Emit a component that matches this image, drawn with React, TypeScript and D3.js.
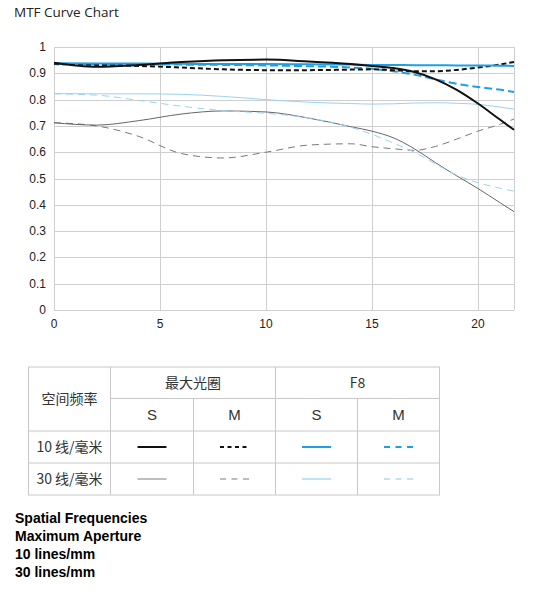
import * as d3 from 'd3';

// spatial frequency samples (x axis, mm from centre)
const xs = [0, 2, 4, 6, 8, 10, 12, 14, 15, 16, 17, 18, 19, 20, 21, 21.7];

// 10 lines/mm
const s10Max = [0.94, 0.925, 0.932, 0.943, 0.95, 0.952, 0.945, 0.935, 0.928, 0.92, 0.905, 0.877, 0.837, 0.785, 0.726, 0.685];
const m10Max = [0.935, 0.932, 0.928, 0.922, 0.915, 0.912, 0.912, 0.914, 0.915, 0.912, 0.908, 0.908, 0.913, 0.922, 0.933, 0.943];
const s10F8 = [0.938, 0.937, 0.937, 0.936, 0.935, 0.935, 0.934, 0.933, 0.932, 0.932, 0.931, 0.931, 0.93, 0.93, 0.929, 0.928];
const m10F8 = [0.936, 0.935, 0.934, 0.933, 0.932, 0.93, 0.927, 0.922, 0.917, 0.908, 0.895, 0.877, 0.86, 0.848, 0.838, 0.829];

// 30 lines/mm
const s30Max = [0.712, 0.703, 0.72, 0.745, 0.757, 0.753, 0.73, 0.697, 0.68, 0.655, 0.613, 0.56, 0.51, 0.462, 0.41, 0.374];
const m30Max = [0.712, 0.7, 0.66, 0.595, 0.578, 0.6, 0.627, 0.632, 0.621, 0.613, 0.607, 0.622, 0.65, 0.68, 0.705, 0.726];
const s30F8 = [0.823, 0.822, 0.822, 0.82, 0.812, 0.8, 0.79, 0.785, 0.783, 0.784, 0.787, 0.788, 0.786, 0.782, 0.772, 0.764];
const m30F8 = [0.822, 0.817, 0.797, 0.775, 0.758, 0.748, 0.73, 0.695, 0.668, 0.635, 0.6, 0.555, 0.513, 0.484, 0.464, 0.452];

const yTicks = [0, 0.1, 0.2, 0.3, 0.4, 0.5, 0.6, 0.7, 0.8, 0.9, 1];
const xTicks = [0, 5, 10, 15, 20];

const apertureLabels = ['最大光圈', 'F8'];
const typeLabels = ['S', 'M', 'S', 'M'];
const freqLabels = ['10 线/毫米', '30 线/毫米'];
const notes = ['Spatial Frequencies', 'Maximum Aperture', '10 lines/mm', '30 lines/mm'];

const BLACK = '#111111';
const BLUE = '#1f9fe3';
const GRAY = '#7a7a7a';
const LIGHT = '#99d3f3';

// drawing order: back to front
const series = [
  { values: m30Max, color: GRAY, width: 1, dash: '7,5' },
  { values: s30Max, color: '#666666', width: 1, dash: null },
  { values: m30F8, color: LIGHT, width: 1, dash: '7,5' },
  { values: s30F8, color: LIGHT, width: 1, dash: null },
  { values: m10F8, color: BLUE, width: 2, dash: '8,4' },
  { values: m10Max, color: BLACK, width: 2, dash: '5,3' },
  { values: s10F8, color: BLUE, width: 2, dash: null },
  { values: s10Max, color: BLACK, width: 2, dash: null },
];

// legend cell styles: rows = 10, 30 lines/mm; cols = Max S, Max M, F8 S, F8 M
const legendStyles = [
  [
    { color: BLACK, width: 2, dash: null },
    { color: BLACK, width: 2, dash: '4,3.5' },
    { color: BLUE, width: 2, dash: null },
    { color: BLUE, width: 2, dash: '6,5.5' },
  ],
  [
    { color: '#a8a8a8', width: 1.5, dash: null },
    { color: '#a8a8a8', width: 1.5, dash: '6,5.5' },
    { color: '#a9dcf5', width: 1.5, dash: null },
    { color: '#a9dcf5', width: 1.5, dash: '6,5.5' },
  ],
];

const margin = { left: 54, right: 514, top: 47, bottom: 310 };
const axisFont = '"Liberation Sans", Arial, sans-serif';
const cjkFont = '"Noto Sans CJK SC", "Liberation Sans", sans-serif';

export default function App() {
  const x = d3.scaleLinear().domain([0, 21.7]).range([margin.left, margin.right]);
  const y = d3.scaleLinear().domain([0, 1]).range([margin.bottom, margin.top]);

  const line = d3
    .line<number>()
    .x((_, i) => x(xs[i]))
    .y((d) => y(d))
    .curve(d3.curveMonotoneX);

  const colX = [28.5, 110.5, 193.5, 275.5, 357.5, 439.5];
  const rowY = [367, 398.5, 431, 463, 495];
  const gridColor = '#cfcfcf';
  const tableColor = '#c8c8c8';

  return (
    <svg
      width={551}
      height={600}
      style={{ position: 'absolute', left: 0, top: 0, background: '#fff' }}
    >
      <text x={14} y={17} fontFamily='"Open Sans", "Noto Sans", sans-serif' fontSize={13.5} fill="#222">
        MTF Curve Chart
      </text>

      {/* grid */}
      {yTicks.map((t) => (
        <line key={'h' + t} x1={margin.left} x2={margin.right} y1={Math.round(y(t)) + 0.5} y2={Math.round(y(t)) + 0.5} stroke={gridColor} />
      ))}
      {xTicks.map((t) => (
        <line key={'v' + t} x1={Math.round(x(t)) + 0.5} x2={Math.round(x(t)) + 0.5} y1={margin.top} y2={margin.bottom} stroke={gridColor} />
      ))}
      <line x1={margin.right + 0.5} x2={margin.right + 0.5} y1={margin.top} y2={margin.bottom} stroke={gridColor} />

      {/* tick labels */}
      {yTicks.map((t) => (
        <text key={'yl' + t} x={46} y={y(t) + 4} textAnchor="end" fontFamily={axisFont} fontSize={12} fill="#222">
          {d3.format('~g')(+t.toFixed(1))}
        </text>
      ))}
      {xTicks.map((t) => (
        <text key={'xl' + t} x={x(t)} y={margin.bottom + 18} textAnchor="middle" fontFamily={axisFont} fontSize={12} fill="#222">
          {t}
        </text>
      ))}

      {/* curves */}
      {series.map((s, i) => (
        <path
          key={'s' + i}
          d={line(s.values) ?? ''}
          fill="none"
          stroke={s.color}
          strokeWidth={s.width}
          strokeDasharray={s.dash ?? undefined}
        />
      ))}

      {/* legend table */}
      <g stroke={tableColor} strokeWidth={1}>
        <rect x={colX[0]} y={rowY[0]} width={colX[5] - colX[0]} height={rowY[4] - rowY[0]} fill="none" />
        <line x1={colX[1]} x2={colX[5]} y1={rowY[1]} y2={rowY[1]} />
        <line x1={colX[0]} x2={colX[5]} y1={rowY[2]} y2={rowY[2]} />
        <line x1={colX[0]} x2={colX[5]} y1={rowY[3]} y2={rowY[3]} />
        <line x1={colX[1]} x2={colX[1]} y1={rowY[0]} y2={rowY[4]} />
        <line x1={colX[3]} x2={colX[3]} y1={rowY[0]} y2={rowY[4]} />
        <line x1={colX[2]} x2={colX[2]} y1={rowY[1]} y2={rowY[4]} />
        <line x1={colX[4]} x2={colX[4]} y1={rowY[1]} y2={rowY[4]} />
      </g>
      <g fill="#333" fontFamily={cjkFont} fontSize={14} textAnchor="middle">
        <text x={(colX[0] + colX[1]) / 2} y={(rowY[0] + rowY[2]) / 2 + 5}>
          空间频率
        </text>
        {apertureLabels.map((a, i) => (
          <text key={a} x={(colX[1 + i * 2] + colX[3 + i * 2]) / 2} y={(rowY[0] + rowY[1]) / 2 + 5}>
            {a}
          </text>
        ))}
        {typeLabels.map((t, i) => (
          <text key={'t' + i} x={(colX[1 + i] + colX[2 + i]) / 2} y={(rowY[1] + rowY[2]) / 2 + 5.5} fontFamily={axisFont} fontSize={15}>
            {t}
          </text>
        ))}
        {freqLabels.map((f, i) => (
          <text key={f} x={(colX[0] + colX[1]) / 2} y={(rowY[2 + i] + rowY[3 + i]) / 2 + 5}>
            {f}
          </text>
        ))}
      </g>
      {legendStyles.map((row, r) =>
        row.map((st, c) => {
          const cx = (colX[1 + c] + colX[2 + c]) / 2;
          const cy = Math.round((rowY[2 + r] + rowY[3 + r]) / 2);
          return (
            <line
              key={`lg${r}-${c}`}
              x1={cx - 14.5}
              x2={cx + 14.5}
              y1={cy}
              y2={cy}
              stroke={st.color}
              strokeWidth={st.width}
              strokeDasharray={st.dash ?? undefined}
            />
          );
        })
      )}

      {/* notes */}
      {notes.map((n, i) => (
        <text key={n} x={15} y={523 + i * 18} fontFamily={axisFont} fontSize={14} fontWeight="bold" fill="#000">
          {n}
        </text>
      ))}
    </svg>
  );
}
